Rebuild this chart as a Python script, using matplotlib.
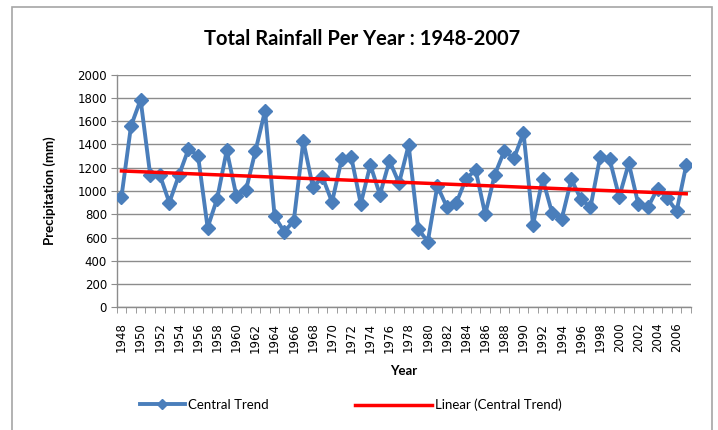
import numpy as np
import matplotlib
matplotlib.use("Agg")
import matplotlib.pyplot as plt
from matplotlib.lines import Line2D
from matplotlib.patches import Rectangle

# Dane (mm)
lata = list(range(1948, 2008))
opady = [950, 1560, 1785, 1140, 1140, 900, 1135, 1360, 1305, 685,
         935, 1350, 960, 1005, 1345, 1690, 782, 650, 742, 1430,
         1032, 1120, 905, 1272, 1295, 890, 1225, 968, 1260, 1068,
         1395, 673, 565, 1043, 862, 900, 1106, 1180, 800, 1141,
         1345, 1280, 1500, 711, 1105, 808, 762, 1100, 930, 860,
         1290, 1272, 950, 1238, 885, 860, 1020, 940, 828, 1222]
etykiety_x = [str(r) for r in range(1948, 2008, 2)]
ticki_y = list(range(0, 2001, 200))

niebieski = "#4A7EBB"
czerwony = "#FF0000"
szary = "#8C8C8C"

fig = plt.figure(figsize=(7.18, 4.30), dpi=100)
ax = fig.add_axes([0.1625, 0.2853, 0.7999, 0.541])

# Ramka wykresu
fig.patches.append(Rectangle((12 / 718, -0.05), 700 / 718, 1 - 7 / 430 + 0.05,
                             transform=fig.transFigure, fill=False,
                             edgecolor="#A6A6A6", linewidth=1.2))

ax.plot(lata, opady, color=niebieski, linewidth=2.8, marker="D",
        markersize=7, markeredgecolor=niebieski, zorder=3)

# Linia trendu (regresja liniowa)
wsp = np.polyfit(lata, opady, 1)
trend = np.polyval(wsp, lata)
ax.plot(lata, trend, color=czerwony, linewidth=2.5, zorder=4)

ax.set_xlim(1947.5, 2007.5)
ax.set_ylim(0, 2000)
ax.set_yticks(ticki_y)
ax.set_yticklabels([str(v) for v in ticki_y], fontsize=8.5, family="DejaVu Sans")
ax.set_xticks(range(1948, 2008, 2))
ax.set_xticklabels(etykiety_x, rotation=90, fontsize=8.5, family="DejaVu Sans")
ax.set_xticks(np.arange(1947.5, 2008, 1), minor=True)
ax.tick_params(axis="x", which="major", length=0, pad=11)
ax.tick_params(axis="x", which="minor", length=4, color=szary, direction="out")
ax.tick_params(axis="y", length=4, color=szary, direction="out", pad=3)

ax.yaxis.grid(True, color=szary, linewidth=1)
ax.set_axisbelow(True)
for s in ["top", "right"]:
    ax.spines[s].set_visible(False)
for s in ["left", "bottom"]:
    ax.spines[s].set_color(szary)
    ax.spines[s].set_linewidth(1)

fig.text(0.504, 0.91, "Total Rainfall Per Year : 1948-2007", ha="center",
         va="center", fontsize=14.5, family="Lato", fontweight="bold")
ax.set_ylabel("Precipitation (mm)", fontsize=9.5, family="Lato",
              fontweight="bold", labelpad=15)
ax.set_xlabel("Year", fontsize=9.5, family="Lato", fontweight="bold", labelpad=9)

# Legenda - dwa wpisy ustawione osobno
leg_prop = {"family": "Lato", "size": 9.5}
leg1 = fig.legend([Line2D([], [], color=niebieski, linewidth=2.8, marker="D", markersize=5)],
                  ["Central Trend"], loc="center left", bbox_to_anchor=(140 / 718, 1 - 405 / 430),
                  frameon=False, handlelength=3.4, handletextpad=0.2,
                  borderpad=0, borderaxespad=0, prop=leg_prop)
leg2 = fig.legend([Line2D([], [], color=czerwony, linewidth=2.5)],
                  ["Linear (Central Trend)"], loc="center left", bbox_to_anchor=(355 / 718, 1 - 405 / 430),
                  frameon=False, handlelength=5.8, handletextpad=0.3,
                  borderpad=0, borderaxespad=0, prop=leg_prop)

fig.savefig("out.png", dpi=100)
